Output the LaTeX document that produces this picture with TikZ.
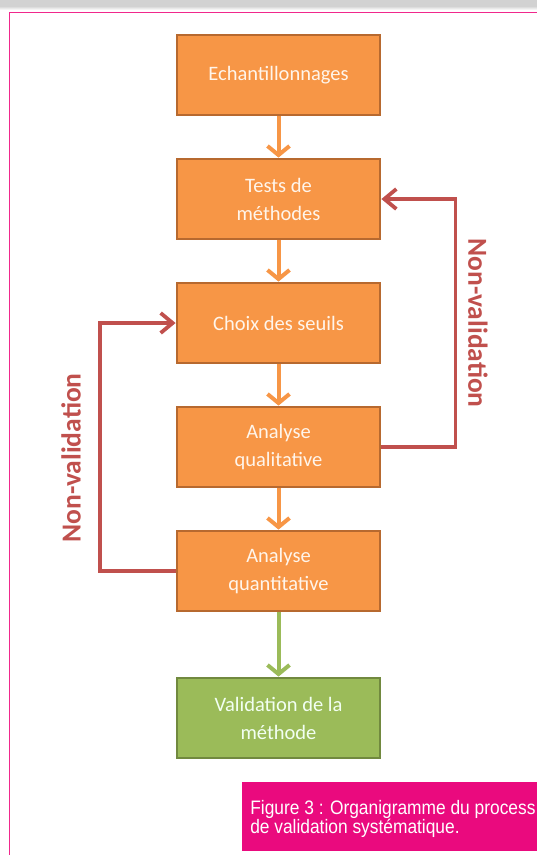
\documentclass[tikz,border=0pt]{standalone}
\usepackage{fontspec}
\setmainfont{Carlito}
\newfontfamily\capfont[FakeStretch=0.89]{Liberation Sans}
\usepackage{xcolor}
\usetikzlibrary{arrows.meta}

\definecolor{boxorange}{HTML}{F79646}
\definecolor{edgeorange}{HTML}{B7692F}
\definecolor{boxgreen}{HTML}{9BBB59}
\definecolor{edgegreen}{HTML}{71893F}
\definecolor{loopred}{HTML}{C0504D}
\definecolor{framepink}{HTML}{F0288C}
\definecolor{cappink}{HTML}{EA0A7E}

\begin{document}
\begin{tikzpicture}[x=1pt,y=1pt,->,>={Straight Barb[length=9pt,width=22pt]},node distance=124pt,semithick]
    \tikzset{stepbox/.style={draw=edgeorange,fill=boxorange,line width=2.8pt,minimum width=203pt,minimum height=80pt,
                             align=center,text=orange!8,font=\fontsize{20.5}{28}\selectfont}}
    \tikzset{okbox/.style={stepbox,draw=edgegreen,fill=boxgreen,text=green!5}}
    \tikzset{flow/.style={boxorange,line width=4pt}}
    \tikzset{loop/.style={loopred,line width=3.8pt,>={Straight Barb[length=12pt,width=20pt]}}}
    \tikzset{nvlabel/.style={text=loopred,font=\fontsize{27.5}{30}\selectfont\bfseries}}

    \useasboundingbox (0,0) rectangle (537,-855);

    % page frame
    \fill[gray!35] (0,0) rectangle (537,-6);
    \shade[top color=gray!35,bottom color=white,draw=none] (0,-6) rectangle (537,-10);
    \draw[-,framepink,line width=1.5pt] (540,-12.5) -- (9.5,-12.5) -- (9.5,-858);

    \node[stepbox] (A) at (278.5,-75) {Echantillonnages};
    \node[stepbox] (B) [below of=A] {Tests de\\méthodes};
    \node[stepbox] (C) [below of=B] {Choix des seuils};
    \node[stepbox] (D) [below of=C] {Analyse\\qualitative};
    \node[stepbox] (E) [below of=D] {Analyse\\quantitative};
    \node[okbox]   (F) [below of=E,node distance=147pt] {Validation de la\\méthode};

    \path (A) edge[flow]          (B);
    \path (B) edge[flow]          (C);
    \path (C) edge[flow]          (D);
    \path (D) edge[flow]          (E);
    \path (E) edge[flow,boxgreen] (F);

    % non-validation loops
    \draw[loop] (D.east) -- ++(74pt,0) |- (B.east);
    \draw[loop] (E.west) -- ++(-76pt,0) |- (C.west);
    \node[nvlabel,rotate=-90] (nvright) at (478,-323) {Non-validation};
    \node[nvlabel,rotate=90]  (nvleft)  at (71,-458)  {Non-validation};

    % caption
    \fill[cappink] (242,-782) rectangle (537,-851);
    \node[anchor=north west,align=left,inner sep=0pt,text=white,font=\capfont\fontsize{19.5}{16}\selectfont] (cap) at (250,-800)
        {Figure 3 : Organigramme du process\\de validation systématique.};
\end{tikzpicture}
\end{document}
